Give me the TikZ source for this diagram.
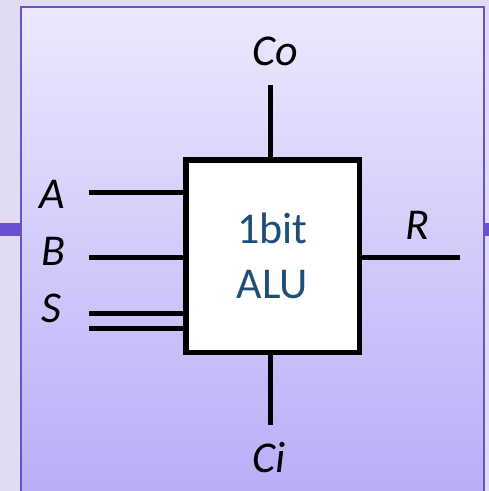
\documentclass[tikz,border=0pt]{standalone}
\usepackage{fontspec}
\setmainfont{Carlito}
\usetikzlibrary{shadows}

\definecolor{slidebg}{HTML}{E2DCF2}
\definecolor{paneltop}{HTML}{ECE9FD}
\definecolor{panelbot}{HTML}{B8AEF8}
\definecolor{panelline}{HTML}{6A4FCF}
\definecolor{alutext}{HTML}{1F4E79}

\begin{document}
\begin{tikzpicture}[x=1pt, y=-1pt,
    alu/.style={rectangle, draw, fill=white, line width=5.5pt, minimum width=173.5pt, minimum height=192.5pt,
        align=center, text=alutext, font=\fontsize{44}{55}\selectfont,
        drop shadow={opacity=0.25, shadow xshift=1.5pt, shadow yshift=-1.5pt}},
    pin/.style={line width=5pt},
    lbl/.style={anchor=base, font=\fontsize{44}{50}\selectfont\itshape}
]
\useasboundingbox (0,0) rectangle (489,491);
\fill[slidebg] (0,0) rectangle (489,491);

% slide panel
\fill[panelline] (0,223) rectangle (22,236);
\fill[panelline] (483,223) rectangle (489,236);
\shade[top color=paneltop, bottom color=panelbot, draw=panelline, line width=1.5pt]
    (21,7) rectangle (484,495);

\node[alu] (alu) at (272.5,256) {1bit\\ALU};

% pins
\coordinate (a)  at (89,192);
\coordinate (b)  at (89,257);
\coordinate (s1) at (89,313);
\coordinate (s2) at (89,328);
\coordinate (r)  at (460,257);
\coordinate (co) at (270,85);
\coordinate (ci) at (270,425);

\draw[pin] (a)  -- (a -| alu.west);
\draw[pin] (b)  -- (b -| alu.west);
\draw[pin] (s1) -- (s1 -| alu.west);
\draw[pin] (s2) -- (s2 -| alu.west);
\draw[pin] (r)  -- (r -| alu.east);
\draw[pin] (co) -- (co |- alu.north);
\draw[pin] (ci) -- (ci |- alu.south);

% labels
\node[lbl] (lblA)  at (52,208)  {A};
\node[lbl] (lblB)  at (53,265)  {B};
\node[lbl] (lblS)  at (51,322)  {S};
\node[lbl] (lblR)  at (417,239) {R};
\node[lbl] (lblCo) at (275,65)  {Co};
\node[lbl] (lblCi) at (269,472) {Ci};
\end{tikzpicture}
\end{document}
